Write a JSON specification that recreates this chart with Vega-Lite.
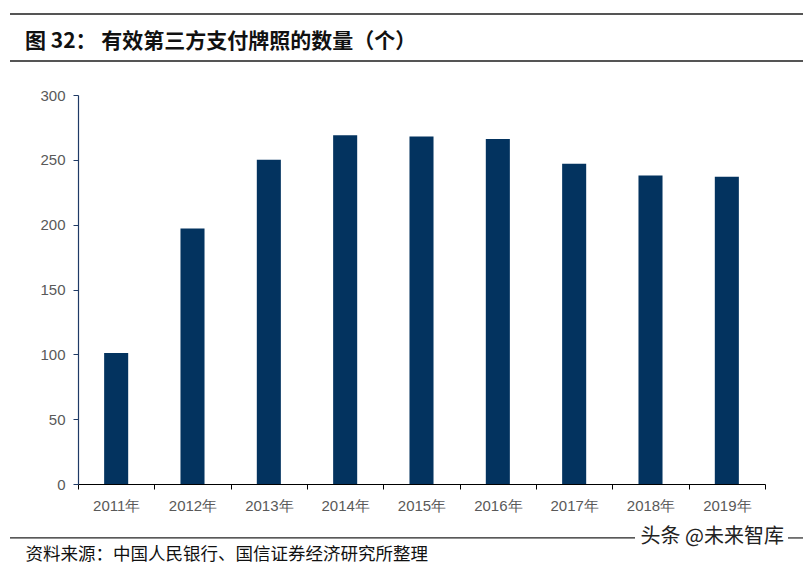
{
  "$schema": "https://vega.github.io/schema/vega-lite/v6.json",
  "width": 687,
  "height": 389,
  "autosize": {"type": "none"},
  "padding": {"left": 78, "top": 95, "right": 38, "bottom": 82},
  "background": "#ffffff",
  "config": {"view": {"stroke": null}},
  "title": {
    "text": "图 32： 有效第三方支付牌照的数量（个）",
    "anchor": "start",
    "frame": "group",
    "baseline": "bottom",
    "dx": -53,
    "offset": 0,
    "dy": 60,
    "font": "Noto Sans CJK SC",
    "fontSize": 21,
    "fontWeight": "bold",
    "color": "#111111"
  },
  "datasets": {
    "bars": [
      {"year": "2011年", "count": 101},
      {"year": "2012年", "count": 197},
      {"year": "2013年", "count": 250},
      {"year": "2014年", "count": 269},
      {"year": "2015年", "count": 268},
      {"year": "2016年", "count": 266},
      {"year": "2017年", "count": 247},
      {"year": "2018年", "count": 238},
      {"year": "2019年", "count": 237}
    ],
    "lines": [
      {"level": 362.5, "from": -68, "to": 725, "w": "top"},
      {"level": 326.2, "from": -68, "to": 725, "w": "top"},
      {"level": -41.6, "from": -68, "to": 557, "w": "bottom"},
      {"level": -41.6, "from": 710, "to": 725, "w": "bottom"}
    ]
  },
  "layer": [
    {
      "data": {"name": "bars"},
      "mark": {"type": "bar", "color": "#03335f", "width": {"band": 0.315}},
      "encoding": {
        "x": {
          "field": "year",
          "type": "nominal",
          "sort": null,
          "scale": {"paddingInner": 0, "paddingOuter": 0},
          "axis": {
            "title": "资料来源：中国人民银行、国信证券经济研究所整理",
            "titleFont": "Noto Sans CJK SC",
            "titleFontSize": 17.5,
            "titleFontWeight": "normal",
            "titleColor": "#111111",
            "titleX": -53,
            "titleY": 70,
            "titleAlign": "left",
            "titleAnchor": "start",
            "titleBaseline": "middle",
            "labelAngle": 0,
            "labelFont": "Liberation Sans",
            "labelFontSize": 15,
            "labelColor": "#595959",
            "labelPadding": 9,
            "tickBand": "extent",
            "tickSize": 5,
            "tickColor": "#000000",
            "domainColor": "#000000",
            "domainWidth": 1.2,
            "grid": false
          }
        },
        "y": {
          "field": "count",
          "type": "quantitative",
          "scale": {"domain": [0, 300], "nice": false, "zero": true},
          "axis": {
            "values": [0, 50, 100, 150, 200, 250, 300],
            "title": "头条 @未来智库",
            "titleAngle": 0,
            "titleX": 562,
            "titleY": 441,
            "titleAlign": "left",
            "titleBaseline": "middle",
            "titleFont": "Noto Sans CJK SC",
            "titleFontSize": 20,
            "titleFontWeight": "normal",
            "titleColor": "#222222",
            "labelFont": "Liberation Sans",
            "labelFontSize": 15,
            "labelColor": "#595959",
            "labelPadding": 8,
            "tickSize": 5,
            "tickColor": "#1f3a66",
            "domainColor": "#1f3a66",
            "domainWidth": 1.2,
            "grid": false
          }
        }
      }
    },
    {
      "data": {"name": "lines"},
      "mark": {"type": "rule", "clip": false},
      "encoding": {
        "y": {"field": "level", "type": "quantitative"},
        "x": {"field": "from", "type": "quantitative", "scale": null},
        "x2": {"field": "to"},
        "color": {"field": "w", "type": "nominal", "scale": {"domain": ["top", "bottom"], "range": ["#555555", "#222222"]}, "legend": null},
        "strokeWidth": {"field": "w", "type": "nominal", "scale": {"domain": ["top", "bottom"], "range": [2, 1.2]}, "legend": null}
      }
    }
  ],
  "resolve": {"scale": {"x": "independent"}, "axis": {"x": "independent"}}
}
